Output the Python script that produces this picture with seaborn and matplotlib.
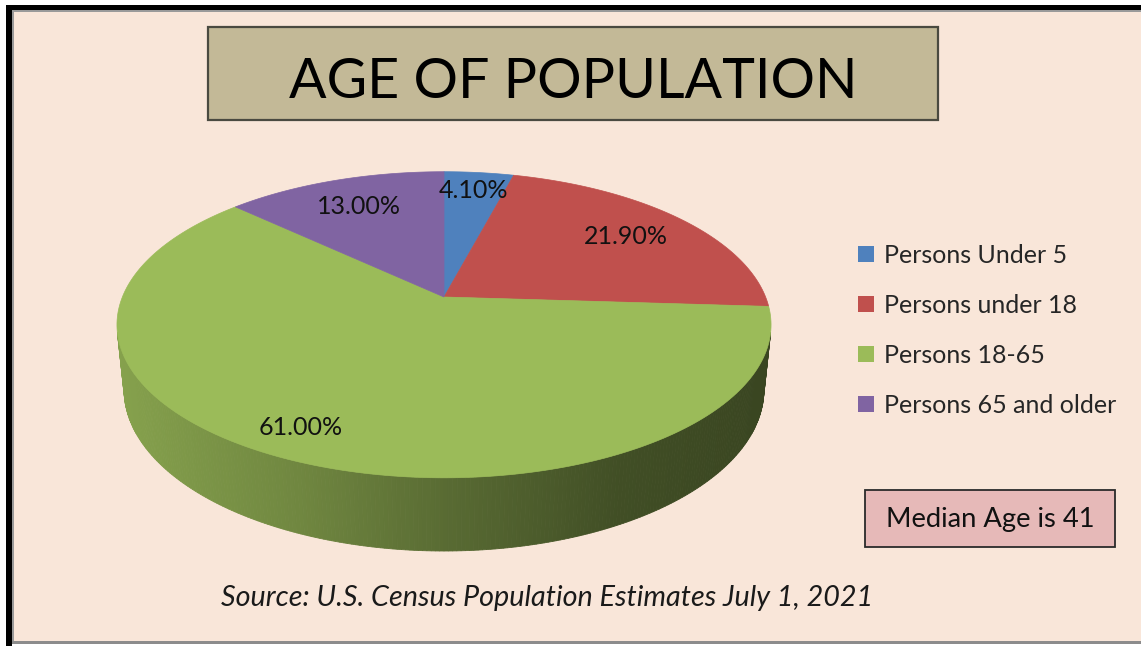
import numpy as np
import matplotlib
matplotlib.use("Agg")
import matplotlib.pyplot as plt
from matplotlib.patches import Polygon, Rectangle, Patch
import seaborn as sns

# ---------------- data ----------------
categories = ["Persons Under 5", "Persons under 18", "Persons 18-65", "Persons 65 and older"]
shares = [4.10, 21.90, 61.00, 13.00]
title_text = "AGE OF POPULATION"
note_text = "Median Age is 41"
source_text = "Source: U.S. Census Population Estimates July 1, 2021"

# ---------------- style ----------------
sns.set_theme(style="white")
plt.rcParams["font.family"] = ["Lato", "DejaVu Sans"]
palette = sns.color_palette(["#4F81BD", "#C0504D", "#9BBB59", "#8064A2"])
BG = "#F9E6D9"

W, H = 1141, 646
fig = plt.figure(figsize=(W / 100, H / 100), dpi=100)
fig.patch.set_facecolor("white")
ax = fig.add_axes([0, 0, 1, 1])
ax.set_xlim(0, W)
ax.set_ylim(H, 0)
ax.axis("off")

# chart area and frame
ax.add_patch(Rectangle((12, 10), W - 12, 632, facecolor=BG, edgecolor="none", zorder=0))
ax.add_patch(Rectangle((6, 5), W - 6, 5, facecolor="black", edgecolor="none", zorder=1))
ax.add_patch(Rectangle((6, 5), 6, H - 5, facecolor="black", edgecolor="none", zorder=1))
ax.add_patch(Rectangle((12, 10), W - 12, 2, facecolor="#9A9A9A", edgecolor="none", zorder=1))
ax.add_patch(Rectangle((12, 10), 2, 632, facecolor="#9A9A9A", edgecolor="none", zorder=1))
ax.add_patch(Rectangle((12, 640.5), W - 12, 3, facecolor="#8C8C8C", edgecolor="none", zorder=1))

# ---------------- 3D pie geometry (perspective projection) ----------------
CX, CY = 444.0, 297.0          # apex on screen
FOC, DIST = 1574.0, 4.894
ELEV = np.radians(27.4)
THICK = 0.229
se, ce = np.sin(ELEV), np.cos(ELEV)


def project(X, Y, Z=0.0):
    depth = Y * ce - Z * se + DIST
    sx = CX + FOC * X / depth
    sy = CY - FOC * (Y * se + Z * ce) / depth
    return sx, sy


fr = np.array(shares) / np.sum(shares)
cum = np.concatenate([[0], np.cumsum(fr)])
# start at 12 o'clock (far side), go clockwise seen from above
t_start = np.pi / 2 - 2 * np.pi * cum[:-1]
t_end = np.pi / 2 - 2 * np.pi * cum[1:]

# side wall: only the part facing the viewer
t_sil = np.arcsin(1.0 / (DIST * ce))
shade_x = [120, 300, 450, 620, 775]
shade_f = [0.86, 0.72, 0.57, 0.42, 0.37]
n_strip = 240
ts = np.linspace(-np.pi + t_sil, -t_sil, n_strip + 1)
for a, b in zip(ts[:-1], ts[1:]):
    m = 0.5 * (a + b)
    pos = ((np.pi / 2 - m) / (2 * np.pi)) % 1.0
    k = int(np.searchsorted(cum, pos, side="right") - 1)
    k = min(max(k, 0), len(shares) - 1)
    x1, y1 = project(np.cos(a), np.sin(a))
    x2, y2 = project(np.cos(b), np.sin(b))
    x3, y3 = project(np.cos(b), np.sin(b), -THICK)
    x4, y4 = project(np.cos(a), np.sin(a), -THICK)
    f = np.interp(0.5 * (x1 + x2), shade_x, shade_f)
    col = np.clip(np.array(palette[k]) * f, 0, 1)
    ax.add_patch(Polygon([(x1, y1), (x2, y2), (x3, y3), (x4, y4)], closed=True,
                         facecolor=col, edgecolor=col, linewidth=0.6, zorder=2))

# top faces
for k in range(len(shares)):
    tt = np.linspace(t_start[k], t_end[k], 200)
    rim = [project(np.cos(t), np.sin(t)) for t in tt]
    poly = [(CX, CY)] + rim
    ax.add_patch(Polygon(poly, closed=True, facecolor=palette[k], edgecolor=palette[k],
                         linewidth=0.5, zorder=3))

# data labels
label_r = [0.83, 0.755, 0.85, 0.75]
label_dt = [0.0, 0.0, -3.5, 0.0]
for k in range(len(shares)):
    tm = 0.5 * (t_start[k] + t_end[k]) + np.radians(label_dt[k])
    lx, ly = project(label_r[k] * np.cos(tm), label_r[k] * np.sin(tm))
    ax.text(lx, ly, f"{shares[k]:.2f}%", ha="center", va="center", fontsize=18,
            color="#111111", zorder=5)

# legend
handles = [Patch(facecolor=palette[k], edgecolor="none") for k in range(len(shares))]
ax.legend(handles, categories, loc="upper left",
          bbox_to_anchor=(858 / W, 1 - 244 / H), frameon=False, fontsize=18,
          handlelength=0.62, handleheight=0.62, handletextpad=0.4,
          labelspacing=1.08, borderpad=0, borderaxespad=0)

# title box
ax.add_patch(Rectangle((208, 27), 730, 93, facecolor="#C3B997", edgecolor="#4A4A40",
                       linewidth=1.6, zorder=4))
ax.text(573, 78, title_text, ha="center", va="center_baseline", fontsize=40,
        color="black", zorder=5)

# median box
ax.add_patch(Rectangle((865, 490), 250, 57, facecolor="#E6B9B8", edgecolor="#2A2A2A",
                       linewidth=1.3, zorder=4))
ax.text(990, 519, note_text, ha="center", va="center", fontsize=19.7, color="#111111", zorder=5)

# source
ax.text(547, 598, source_text, ha="center", va="center", fontsize=20.7, style="italic",
        color="#1A1A1A", zorder=5)

fig.savefig("out.png", dpi=100, facecolor=fig.get_facecolor())
